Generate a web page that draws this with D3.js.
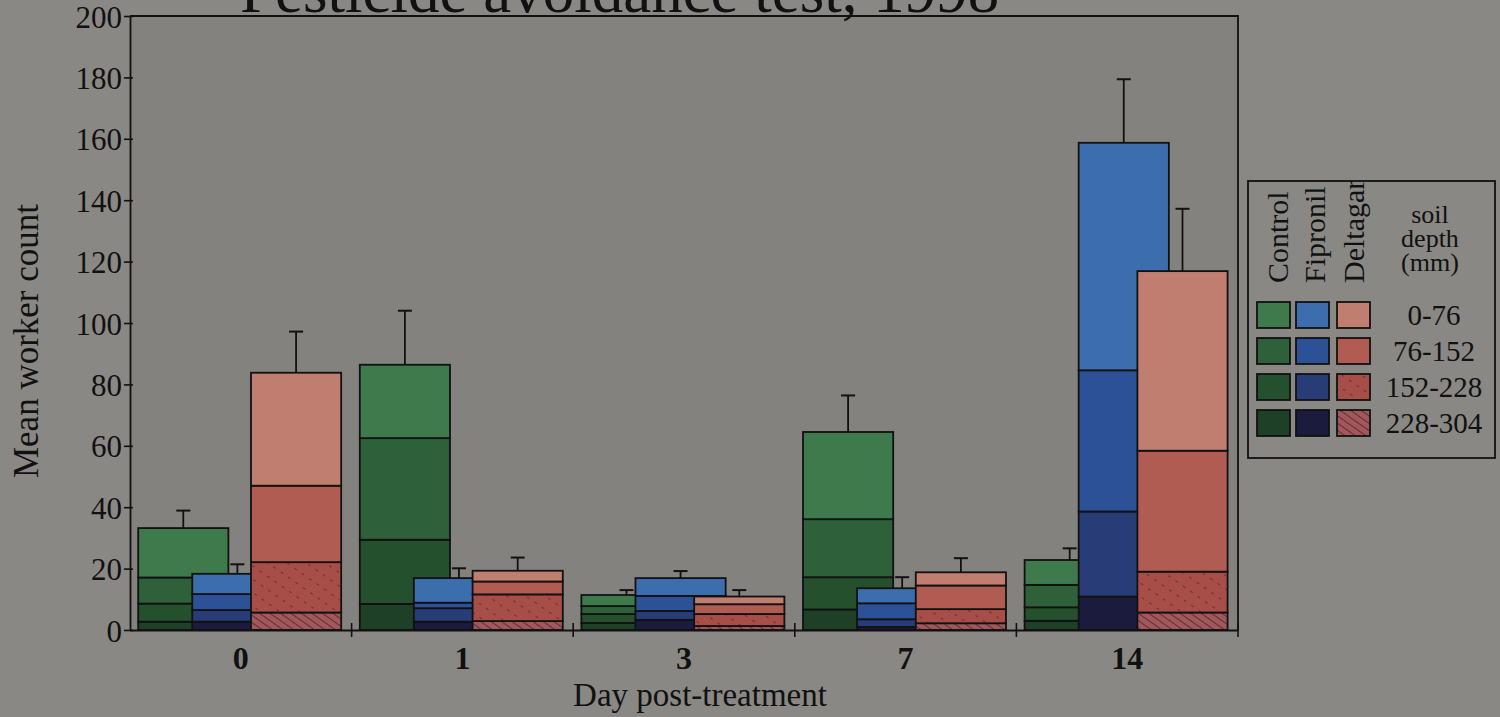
<!DOCTYPE html>
<html>
<head>
<meta charset="utf-8">
<script src="https://cdn.jsdelivr.net/npm/d3@7"></script>
<style>
  html, body { margin: 0; padding: 0; background: #8a8884; }
  svg { display: block; }
  text { font-family: "Liberation Serif", "Times New Roman", serif; fill: #111; }
</style>
</head>
<body>
<script>
// Days after treatment (x categories) and soil depth classes
const days = ["0", "1", "3", "7", "14"];
const depths = ["0-76", "76-152", "152-228", "228-304"];
const treatments = ["Control", "Fipronil", "Deltagard"];
const yTicks = [0, 20, 40, 60, 80, 100, 120, 140, 160, 180, 200];

// Mean worker count per day, split by depth: [0-76, 76-152, 152-228, 228-304]
const controlCounts = [
  [16.1, 8.5, 5.9, 2.7],
  [23.9, 33.1, 20.9, 8.5],
  [3.6, 2.6, 2.9, 2.3],
  [28.4, 18.9, 10.5, 6.7],
  [8.1, 7.3, 4.4, 3.0]
];
const fipronilCounts = [
  [6.6, 5.2, 3.8, 2.7],
  [8.0, 1.8, 4.4, 2.7],
  [5.8, 4.9, 2.9, 3.3],
  [4.9, 5.2, 2.5, 1.0],
  [74.1, 46.0, 27.7, 10.9]
];
const deltagardCounts = [
  [36.8, 24.9, 16.4, 5.7],
  [3.5, 4.2, 8.7, 2.9],
  [2.5, 3.2, 3.9, 1.3],
  [4.3, 7.7, 4.6, 2.2],
  [58.5, 39.4, 13.3, 5.7]
];

// Standard error of the total count, per day
const controlErr = [5.7, 17.6, 1.6, 11.9, 3.8];
const fipronilErr = [3.1, 3.2, 2.3, 3.6, 20.7];
const deltagardErr = [13.4, 4.3, 2.1, 4.6, 20.3];

const counts = [controlCounts, fipronilCounts, deltagardCounts];
const errors = [controlErr, fipronilErr, deltagardErr];

// Fill per treatment, shallow to deep
const palette = [
  ["#3f7a4c", "#2e6139", "#24502e", "#1d4027"],
  ["#3c6eae", "#2d5196", "#283d78", "#1b1b3e"],
  ["#bf7e6f", "#b05c52", "#a84e48", "#a2575b"]
];

const W = 1500, H = 717;
const plot = { left: 130, right: 1238, top: 16, bottom: 630 };

const svg = d3.select("body").append("svg")
  .attr("width", W).attr("height", H);

// hatching used for the deep Deltagard layers
const defs = svg.append("defs");
const hatchDense = defs.append("pattern")
  .attr("id", "hatch-dense").attr("patternUnits", "userSpaceOnUse")
  .attr("width", 6).attr("height", 6)
  .attr("patternTransform", "rotate(-55)");
hatchDense.append("rect").attr("width", 6).attr("height", 6).attr("fill", palette[2][3]);
hatchDense.append("line").attr("x1", 0).attr("y1", 0).attr("x2", 0).attr("y2", 6)
  .attr("stroke", "#3a2025").attr("stroke-width", 1.4);

const hatchSparse = defs.append("pattern")
  .attr("id", "hatch-sparse").attr("patternUnits", "userSpaceOnUse")
  .attr("width", 11).attr("height", 9)
  .attr("patternTransform", "rotate(-55)");
hatchSparse.append("rect").attr("width", 11).attr("height", 9).attr("fill", palette[2][2]);
hatchSparse.append("line").attr("x1", 0).attr("y1", 0).attr("x2", 0).attr("y2", 3)
  .attr("stroke", "#3a2025").attr("stroke-width", 1.2);

function fillFor(t, k) {
  if (t === 2 && k === 3) return "url(#hatch-dense)";
  if (t === 2 && k === 2) return "url(#hatch-sparse)";
  return palette[t][k];
}

// background and plot area
svg.append("rect").attr("width", W).attr("height", H).attr("fill", "#8a8884");
svg.append("rect")
  .attr("x", plot.left).attr("y", plot.top)
  .attr("width", plot.right - plot.left).attr("height", plot.bottom - plot.top)
  .attr("fill", "#84827e");

// title, partly above the page edge
svg.append("text")
  .attr("x", 240).attr("y", 12)
  .attr("font-size", 63)
  .text("Pesticide avoidance test, 1998");

const x = d3.scaleBand().domain(days).range([plot.left, plot.right]).padding(0);
const y = d3.scaleLinear().domain([0, 200]).range([plot.bottom, plot.top]);

// position of each treatment bar inside a day's band
const barOffset = [0.037, 0.281, 0.546];
const barWidth = 0.407;

// stack from deepest layer at the bottom to shallowest at the top
const stackKeys = depths.slice().reverse();
const stack = d3.stack().keys(stackKeys);

treatments.forEach((name, t) => {
  const rows = days.map((day, i) => {
    const r = { day };
    depths.forEach((dep, k) => { r[dep] = counts[t][i][k]; });
    return r;
  });
  const series = stack(rows);
  const g = svg.append("g").attr("class", "treatment-" + name);
  series.forEach(s => {
    const k = depths.indexOf(s.key);
    g.selectAll(null).data(s).join("rect")
      .attr("x", d => x(d.data.day) + barOffset[t] * x.bandwidth())
      .attr("width", barWidth * x.bandwidth())
      .attr("y", d => y(d[1]))
      .attr("height", d => y(d[0]) - y(d[1]))
      .attr("fill", fillFor(t, k))
      .attr("stroke", "#111")
      .attr("stroke-width", 1.8);
  });
  // error bars
  const top = series[series.length - 1];
  const eg = g.append("g");
  top.forEach((d, i) => {
    const cx = x(d.data.day) + (barOffset[t] + barWidth / 2) * x.bandwidth();
    const yTop = y(d[1] + errors[t][i]);
    eg.append("line")
      .attr("x1", cx).attr("x2", cx).attr("y1", y(d[1])).attr("y2", yTop)
      .attr("stroke", "#111").attr("stroke-width", 1.8);
    eg.append("line")
      .attr("x1", cx - 7).attr("x2", cx + 7).attr("y1", yTop).attr("y2", yTop)
      .attr("stroke", "#111").attr("stroke-width", 2);
  });
});

// frame: top and right edges
svg.append("path")
  .attr("d", `M${plot.left},${plot.top}H${plot.right}V${plot.bottom}`)
  .attr("fill", "none").attr("stroke", "#111").attr("stroke-width", 1.8);

// y axis
const yAxis = svg.append("g")
  .attr("transform", `translate(${plot.left},0)`)
  .call(d3.axisLeft(y).tickValues(yTicks).tickSizeInner(6).tickSizeOuter(0).tickPadding(2));
yAxis.select(".domain").attr("stroke", "#111").attr("stroke-width", 1.8);
yAxis.selectAll(".tick line").attr("x1", 3).attr("stroke", "#111").attr("stroke-width", 1.6);
yAxis.selectAll(".tick text")
  .attr("font-family", "Liberation Serif, serif").attr("font-size", 31).attr("fill", "#111")
  .attr("dy", "0.36em");

// x axis: labels at band centres, ticks at band boundaries
const xAxis = svg.append("g")
  .attr("transform", `translate(0,${plot.bottom})`)
  .call(d3.axisBottom(x).tickSize(0).tickPadding(12));
xAxis.select(".domain").attr("stroke", "#111").attr("stroke-width", 1.8);
xAxis.selectAll(".tick text")
  .attr("font-family", "Liberation Serif, serif").attr("font-size", 32)
  .attr("font-weight", "bold").attr("fill", "#111")
  .attr("dy", "0.85em");
const boundaries = days.slice(1).map(d => x(d)).concat([plot.right]);
svg.append("g").selectAll("line").data(boundaries).join("line")
  .attr("x1", d => d).attr("x2", d => d)
  .attr("y1", plot.bottom - 7).attr("y2", plot.bottom + 7)
  .attr("stroke", "#111").attr("stroke-width", 1.6);

// axis titles
svg.append("text")
  .attr("transform", `translate(38,${(plot.top + plot.bottom) / 2 + 18}) rotate(-90)`)
  .attr("text-anchor", "middle").attr("font-size", 35)
  .text("Mean worker count");
svg.append("text")
  .attr("x", 700).attr("y", 706)
  .attr("text-anchor", "middle").attr("font-size", 33)
  .text("Day post-treatment");

// legend
const lg = { x: 1248, y: 181, w: 247, h: 277 };
defs.append("clipPath").attr("id", "legend-clip")
  .append("rect").attr("x", lg.x).attr("y", lg.y).attr("width", lg.w).attr("height", lg.h);
const legend = svg.append("g");
legend.append("rect")
  .attr("x", lg.x).attr("y", lg.y).attr("width", lg.w).attr("height", lg.h)
  .attr("fill", "#8a8884").attr("stroke", "#111").attr("stroke-width", 1.8);
const lgInner = legend.append("g").attr("clip-path", "url(#legend-clip)");

const colX = [1257, 1296, 1337];
const labelBase = [1288, 1325, 1364];
treatments.forEach((name, t) => {
  lgInner.append("text")
    .attr("transform", `translate(${labelBase[t]},283) rotate(-90)`)
    .attr("font-size", 30)
    .text(name);
  depths.forEach((dep, k) => {
    lgInner.append("rect")
      .attr("x", colX[t]).attr("y", 302 + k * 36)
      .attr("width", 33).attr("height", 26)
      .attr("fill", fillFor(t, k))
      .attr("stroke", "#111").attr("stroke-width", 1.8);
  });
});
depths.forEach((dep, k) => {
  lgInner.append("text")
    .attr("x", 1434).attr("y", 325 + k * 36)
    .attr("text-anchor", "middle").attr("font-size", 29)
    .text(dep);
});
["soil", "depth", "(mm)"].forEach((w, i) => {
  lgInner.append("text")
    .attr("x", 1430).attr("y", 223 + i * 24)
    .attr("text-anchor", "middle").attr("font-size", 26)
    .text(w);
});
</script>
</body>
</html>
